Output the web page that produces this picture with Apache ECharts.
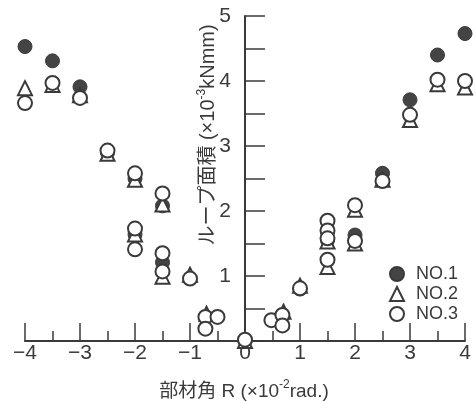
<!DOCTYPE html>
<html>
<head>
<meta charset="utf-8">
<script src="https://cdn.jsdelivr.net/npm/echarts@6/dist/echarts.min.js"></script>
<style>html,body{margin:0;padding:0;background:#fff}#c{width:476px;height:402px}</style>
</head>
<body>
<div id="c"></div>
<script>
// Data: [rotation angle R (x10^-2 rad), loop area (x10^-3 kNmm)]
var no1 = [[-4,4.53],[-3.5,4.31],[-3,3.91],[-2.5,2.90],[-2,2.50],[-2,1.64],[-1.5,2.08],[-1.5,1.21],
  [0,0],[1,0.80],[1.5,1.55],[2,1.63],[2.5,2.58],[3,3.71],[3.5,4.40],[4,4.73]];
var no2 = [[-4,3.89],[-3.5,3.94],[-3,3.78],[-2.5,2.88],[-2,2.48],[-2,1.64],[-1.5,2.10],[-1.5,0.99],
  [-1,1.02],[-0.7,0.42],[0,0],[0.7,0.45],[1,0.85],[1.5,1.14],[1.5,1.53],[2,2.02],[2,1.50],
  [2.5,2.48],[3,3.40],[3.5,3.95],[4,3.90]];
var no3 = [[-4,3.66],[-3.5,3.97],[-3,3.74],[-2.5,2.93],[-2,2.58],[-2,1.73],[-2,1.41],[-1.5,2.27],
  [-1.5,1.35],[-1.5,1.07],[-1,0.96],[-0.72,0.37],[-0.72,0.19],[-0.5,0.37],[0,0.02],[0.48,0.32],
  [0.68,0.40],[0.68,0.24],[1,0.81],[1.5,1.85],[1.5,1.70],[1.5,1.58],[1.5,1.25],[2,2.09],[2,1.54],
  [2.5,2.46],[3,3.48],[3.5,4.02],[4,4.00]];
var seriesNames = ['NO.1','NO.2','NO.3'];
var xTitle = ['部材角 R (×10', '-2', 'rad.)'];
var yTitle = ['ループ面積 (×10', '-3', 'kNmm)'];

var ink = '#3a3a3a';
var latin = '"Liberation Sans", Arial, "Noto Sans CJK JP", sans-serif';
var chart = echarts.init(document.getElementById('c'), null, {renderer: 'canvas'});
chart.setOption({
  animation: false,
  backgroundColor: '#fff',
  grid: {left: 25, right: 11, top: 16, bottom: 61, containLabel: false, outerBoundsMode: 'none'},
  xAxis: {
    type: 'value', min: -4, max: 4, interval: 1,
    axisLine: {onZero: true, lineStyle: {color: ink, width: 2}},
    axisTick: {inside: true, length: 18, lineStyle: {color: ink, width: 1.5}},
    minorTick: {show: true, splitNumber: 2, length: 10, lineStyle: {color: ink, width: 1.5}},
    splitLine: {show: false}, minorSplitLine: {show: false},
    axisLabel: {fontSize: 21, fontFamily: latin, color: ink, margin: 2,
      formatter: function (v) { return String(v).replace('-', '−'); }}
  },
  yAxis: {
    type: 'value', min: 0, max: 5, interval: 0.5, position: 'left', offset: -220,
    axisLine: {onZero: false, lineStyle: {color: ink, width: 2}},
    axisTick: {inside: true, length: 20, lineStyle: {color: ink, width: 1.5}},
    splitLine: {show: false},
    axisLabel: {fontSize: 21, fontFamily: latin, color: ink, margin: 14,
      formatter: function (v) { return (v % 1 === 0 && v !== 0) ? String(v) : ''; }}
  },
  legend: {
    orient: 'vertical', left: 384, top: 259, itemGap: 0, itemWidth: 14, itemHeight: 14,
    data: seriesNames,
    textStyle: {fontSize: 18, fontFamily: latin, color: ink, lineHeight: 20, padding: [0, 0, 0, 7]}
  },
  series: [
    {name: seriesNames[0], type: 'scatter', data: no1, symbol: 'circle', symbolSize: 14,
      itemStyle: {color: '#444', borderColor: ink, borderWidth: 1, opacity: 1}, z: 2},
    {name: seriesNames[1], type: 'scatter', data: no2, symbol: 'triangle', symbolSize: 14,
      itemStyle: {color: '#fff', borderColor: ink, borderWidth: 2, opacity: 1}, z: 3},
    {name: seriesNames[2], type: 'scatter', data: no3, symbol: 'circle', symbolSize: 14,
      itemStyle: {color: '#fff', borderColor: ink, borderWidth: 2, opacity: 1}, z: 4}
  ],
  graphic: [
    {type: 'text', x: 244, y: 390, z: 10,
      style: {text: '{a|' + xTitle[0] + '}{b|' + xTitle[1] + '}{a|' + xTitle[2] + '}',
        align: 'center', verticalAlign: 'middle',
        rich: {a: {fontSize: 19, fontFamily: latin, fill: ink, lineHeight: 22, verticalAlign: 'bottom'},
               b: {fontSize: 12, fontFamily: latin, fill: ink, lineHeight: 22, verticalAlign: 'top'}}}},
    {type: 'text', x: 207, y: 135, rotation: Math.PI / 2, z: 10,
      style: {text: '{a|' + yTitle[0] + '}{b|' + yTitle[1] + '}{a|' + yTitle[2] + '}',
        align: 'center', verticalAlign: 'middle',
        rich: {a: {fontSize: 20, fontFamily: latin, fill: ink, lineHeight: 22, verticalAlign: 'bottom'},
               b: {fontSize: 12, fontFamily: latin, fill: ink, lineHeight: 22, verticalAlign: 'top'}}}}
  ]
});
</script>
</body>
</html>
